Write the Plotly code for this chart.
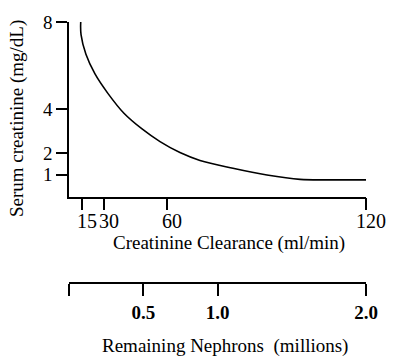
import plotly.graph_objects as go

# Curve: remaining nephrons (millions) vs serum creatinine (mg/dL)
nephrons = [0.079, 0.081, 0.114, 0.175, 0.263, 0.370, 0.492, 0.613, 0.747, 0.882,
            1.104, 1.333, 1.556, 1.78, 2.0]
creatinine = [8.0, 7.42, 6.52, 5.62, 4.72, 3.82, 3.10, 2.52, 2.02, 1.66,
              1.30, 0.99, 0.79, 0.77, 0.77]

# Creatinine clearance ticks and the nephron count each one sits at on the drawing
clearance_labels = ["15", "30", "60", "120"]
clearance_at_nephrons = [0.088, 0.236, 0.66, 2.0]

nephron_ticks = [0, 0.5, 1.0, 2.0]
nephron_labels = ["", "0.5", "1.0", "2.0"]

creat_ticks = [1, 2, 4, 8]

FONT = "Liberation Serif"

fig = go.Figure()
fig.add_trace(go.Scatter(x=nephrons, y=creatinine, mode="lines",
                         line=dict(color="black", width=1.6, shape="spline"),
                         xaxis="x", yaxis="y", showlegend=False, hoverinfo="skip"))
fig.add_trace(go.Scatter(x=nephrons, y=creatinine, mode="lines", opacity=0,
                         line=dict(width=0), xaxis="x2", yaxis="y",
                         showlegend=False, hoverinfo="skip"))

axis_common = dict(showgrid=False, zeroline=False, showline=True, linecolor="black",
                   linewidth=1.5, ticks="outside", tickcolor="black", tickwidth=1.5,
                   color="black", tickangle=0)

fig.update_layout(
    width=399, height=360,
    margin=dict(l=69, r=33, t=17, b=77),
    paper_bgcolor="white", plot_bgcolor="white",
    font=dict(family=FONT, size=19, color="black"),
    xaxis=dict(range=[0, 2], anchor="y", tickvals=clearance_at_nephrons,
               ticktext=clearance_labels, ticklen=12, ticklabelshift=5,
               ticklabelstandoff=-6,
               tickfont=dict(family=FONT, size=20), **axis_common),
    xaxis2=dict(range=[0, 2], overlaying="x", anchor="free", position=0, side="bottom",
                tickvals=nephron_ticks, ticktext=nephron_labels, ticklen=12,
                tickfont=dict(family=FONT, size=19, weight="bold"), **axis_common),
    yaxis=dict(range=[0, 8], domain=[0.3308, 1], tickvals=creat_ticks,
               ticklen=11, tickfont=dict(family=FONT, size=19), **axis_common),
    annotations=[
        dict(text="Serum creatinine (mg/dL)", xref="paper", yref="paper",
             x=-0.175, y=0.628, textangle=-90, showarrow=False,
             font=dict(family=FONT, size=19), xanchor="center", yanchor="middle"),
        dict(text="Creatinine Clearance (ml/min)", xref="paper", yref="paper",
             x=0.539, y=0.154, showarrow=False,
             font=dict(family=FONT, size=19), xanchor="center", yanchor="middle"),
        dict(text="Remaining Nephrons\u00a0\u00a0(millions)", xref="paper", yref="paper",
             x=0.525, y=-0.241, showarrow=False,
             font=dict(family=FONT, size=19), xanchor="center", yanchor="middle"),
    ],
)

fig.write_html("out.html", config={"displayModeBar": False},
               post_script="document.body.style.margin='0px';document.body.style.padding='0px';")
